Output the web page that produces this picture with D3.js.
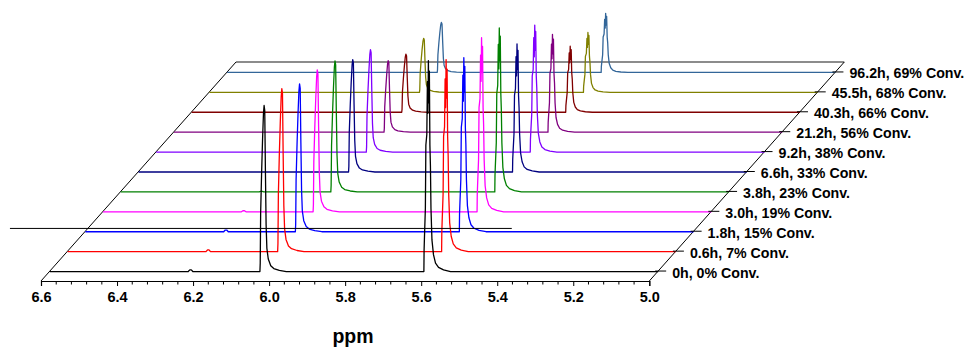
<!DOCTYPE html>
<html>
<head>
<meta charset="utf-8">
<script src="https://cdn.jsdelivr.net/npm/d3@7"></script>
<style>
  body { margin: 0; background: #fff; }
  text { font-family: "Liberation Sans", Arial, sans-serif; font-weight: bold; }
</style>
</head>
<body>
<div id="chart"></div>
<script>
// spectra, front (0h) to back (96.2h)
const labels = ["0h, 0% Conv.", "0.6h, 7% Conv.", "1.8h, 15% Conv.", "3.0h, 19% Conv.",
    "3.8h, 23% Conv.", "6.6h, 33% Conv.", "9.2h, 38% Conv.", "21.2h, 56% Conv.",
    "40.3h, 66% Conv.", "45.5h, 68% Conv.", "96.2h, 69% Conv."];
const colors = ["#000000", "#ff0000", "#0000ff", "#ff00ff", "#008000", "#000080",
    "#8000ff", "#800080", "#800000", "#808000", "#336699"];

// peak heights (a.u.)
const peak1Pos = 6.036, peak2Pos = 5.604;
const peak1Height = [78.7, 77.3, 70.1, 67.3, 62.1, 53.3, 48.6, 33.9, 27.5, 25.6, 23.7];
const peak2Height = [100, 91.0, 82.5, 82.5, 77.7, 60.7, 60.2, 46.4, 31.3, 28.4, 28.0];
const bumpPos = 6.23;
const bumpHeight = [0.8, 0.8, 0.8, 0.5, 0.3, 0, 0, 0, 0, 0, 0];

// line shapes: [ppm offset, relative intensity]
const peak1Shape = [[0.0115, 0], [0.0107, 0.05], [0.0096, 0.35], [0.0070, 0.6], [0.0045, 0.8],
    [0.0022, 0.95], [0.0005, 1], [-0.0012, 0.97], [-0.0030, 0.6], [-0.0048, 0.28], [-0.0068, 0.14],
    [-0.0105, 0.075], [-0.0170, 0.035], [-0.0250, 0.018], [-0.0395, 0.007], [-0.0579, 0]];
const peak2Shape = [[0.0122, 0], [0.0117, 0.1], [0.0109, 0.15], [0.0083, 0.3], [0.0070, 0.6],
    [0.0045, 0.65], [0.0030, 0.9], [0.0016, 0.75], [0.0004, 1], [-0.0010, 0.8], [-0.0022, 0.95],
    [-0.0036, 0.6], [-0.0050, 0.5], [-0.0064, 0.3], [-0.0090, 0.15], [-0.0130, 0.08],
    [-0.0184, 0.04], [-0.0263, 0.02], [-0.0395, 0.008], [-0.0579, 0]];
const bumpShape = [[0.006, 0], [0.002, 1], [-0.002, 1], [-0.006, 0]];

const xTicks = [6.6, 6.4, 6.2, 6.0, 5.8, 5.6, 5.4, 5.2, 5.0];
// stray horizontal line in the picture (front trace frame)
const strayLine = {from: 6.705, to: 5.385, level: 20.2};

const width = 967, height = 349;
const svg = d3.select("#chart").append("svg")
    .attr("width", width).attr("height", height);

const x = d3.scaleLinear().domain([6.6, 5.0]).range([41, 649.3]);
const y = d3.scaleLinear().domain([0, 100]).range([281, 70]);
// depth axis: offsets of each trace along the diagonal
const depthX = d3.scaleLinear().domain([-0.5, 10.5]).range([0, 195]);
const depthY = d3.scaleLinear().domain([-0.5, 10.5]).range([0, -219]);

function tracePoints(i) {
    let pts = [[6.6, 0], [5.0, 0]];
    peak1Shape.forEach(p => pts.push([peak1Pos + p[0], p[1] * peak1Height[i]]));
    peak2Shape.forEach(p => pts.push([peak2Pos + p[0], p[1] * peak2Height[i]]));
    if (bumpHeight[i] > 0)
        bumpShape.forEach(p => pts.push([bumpPos + p[0], p[1] * bumpHeight[i]]));
    return pts.sort((a, b) => b[0] - a[0]);
}

const line = d3.line().x(d => x(d[0])).y(d => y(d[1]));

// frame
const x0 = x(6.6), x1 = x(5.0), yb = y(0);
const dTop = 10.5;
svg.append("line")
    .attr("x1", x0 + depthX(dTop)).attr("x2", x1 + depthX(dTop))
    .attr("y1", yb + depthY(dTop)).attr("y2", yb + depthY(dTop))
    .attr("stroke", "#666").attr("stroke-width", 1.3);
svg.append("line")
    .attr("x1", x0).attr("y1", yb)
    .attr("x2", x0 + depthX(dTop)).attr("y2", yb + depthY(dTop))
    .attr("stroke", "#000");
svg.append("line")
    .attr("x1", x1).attr("y1", yb)
    .attr("x2", x1 + depthX(dTop)).attr("y2", yb + depthY(dTop))
    .attr("stroke", "#000");

// traces, back to front
d3.range(labels.length - 1, -1, -1).forEach(i => {
    svg.append("path")
        .datum(tracePoints(i))
        .attr("transform", `translate(${depthX(i)},${depthY(i) + 0.5})`)
        .attr("fill", "none")
        .attr("stroke", colors[i])
        .attr("stroke-width", 1.3)
        .attr("stroke-linejoin", "round")
        .attr("d", line);
});

// stray line
svg.append("line")
    .attr("x1", x(strayLine.from) + depthX(0)).attr("x2", x(strayLine.to) + depthX(0))
    .attr("y1", y(strayLine.level) + depthY(0)).attr("y2", y(strayLine.level) + depthY(0))
    .attr("stroke", "#000").attr("stroke-width", 1);

// bottom axis
const xAxis = svg.append("g")
    .attr("transform", `translate(0,${yb})`)
    .call(d3.axisBottom(x).tickValues(xTicks).tickFormat(d3.format(".1f")).tickSize(5).tickPadding(6));
xAxis.select(".domain").attr("stroke", "#000").attr("stroke-width", 1.2);
xAxis.selectAll("text").attr("font-size", 14.5).attr("fill", "#000")
    .style("font-family", '"Liberation Sans", Arial, sans-serif').style("font-weight", "bold");
const minor = d3.range(6.56, 5.0, -0.04).filter(v => !xTicks.some(t => Math.abs(t - v) < 1e-6));
svg.append("g").selectAll("line").data(minor).join("line")
    .attr("x1", d => x(d)).attr("x2", d => x(d))
    .attr("y1", yb).attr("y2", yb + 3.5)
    .attr("stroke", "#000");

svg.append("text")
    .attr("x", 353).attr("y", 343)
    .attr("text-anchor", "middle")
    .attr("font-size", 19.5)
    .text("ppm");

// depth labels
const lab = svg.append("g");
labels.forEach((t, i) => {
    const cx = x1 + depthX(i), cy = yb + depthY(i);
    lab.append("line")
        .attr("x1", cx - 3).attr("x2", cx + 8)
        .attr("y1", cy).attr("y2", cy)
        .attr("stroke", "#000");
    lab.append("text")
        .attr("x", cx + 14).attr("y", cy + 1.5)
        .attr("dy", "0.35em")
        .attr("font-size", 14.2)
        .text(t);
});
</script>
</body>
</html>
